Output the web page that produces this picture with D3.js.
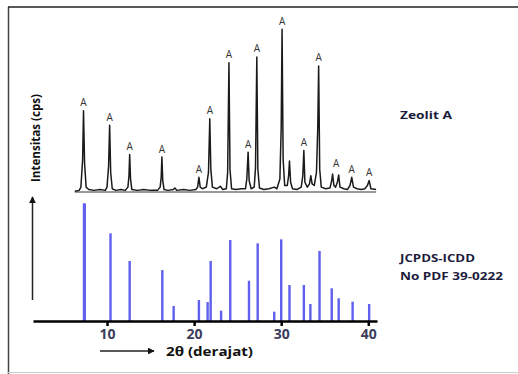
<!DOCTYPE html>
<html>
<head>
<meta charset="utf-8">
<script src="https://cdn.jsdelivr.net/npm/d3@7"></script>
<style>
  body { margin: 0; background: #fff; }
  svg { display: block; font-family: "Open Sans", "DejaVu Sans", sans-serif; }
</style>
</head>
<body>
<svg id="chart" width="518" height="374"></svg>
<script>
// measured trace of the sample (2theta, relative intensity)
const traceTheta = [6.3, 6.8, 7.0, 7.2, 7.3, 7.42, 7.6, 7.9, 8.5, 9.2, 9.8, 10.0, 10.18, 10.3, 10.42, 10.6, 11.0,
  11.6, 12.1, 12.4, 12.52, 12.6, 12.7, 12.85, 13.5, 14.2, 15.0, 15.8, 16.1, 16.22, 16.3, 16.4, 16.55, 17.0,
  17.6, 17.8, 18.0, 18.8, 19.5, 20.2, 20.4, 20.55, 20.7, 20.95, 21.4, 21.65, 21.8, 21.92, 22.1, 22.6, 23.0,
  23.3, 23.7, 23.85, 24.0, 24.12, 24.3, 24.8, 25.4, 25.9, 26.05, 26.2, 26.32, 26.55, 26.9, 27.05, 27.2, 27.32,
  27.5, 28.0, 28.6, 29.2, 29.5, 29.85, 30.0, 30.1, 30.22, 30.4, 30.7, 30.85, 30.95, 31.08, 31.3, 31.8, 32.3,
  32.48, 32.6, 32.72, 33.0, 33.25, 33.4, 33.55, 33.8, 34.05, 34.2, 34.3, 34.42, 34.6, 35.1, 35.6, 35.8, 35.9,
  36.05, 36.25, 36.45, 36.6, 36.75, 37.2, 37.6, 37.9, 38.1, 38.3, 38.7, 39.2, 39.6, 39.9, 40.1, 40.3, 40.9];
const traceInt = [0.5, 1, 3, 20, 50, 18, 3, 1.5, 1, 1.5, 1, 3, 16, 41, 12, 2, 1,
  1.5, 1, 3, 10, 23, 8, 1.5, 1, 1.5, 1, 1, 3, 9, 21.5, 7, 1.5, 1,
  1.5, 2.5, 1, 1.5, 1, 1.5, 3, 9, 3, 2, 3, 12, 45, 14, 3, 2, 3.5,
  1.5, 2, 12, 79.5, 14, 2, 1.5, 2, 2, 8, 24.5, 7, 2, 3, 15, 83, 14,
  2.5, 1.5, 2, 3, 2, 8, 40, 100, 20, 4, 4, 10, 19, 6, 2, 1.5, 3,
  10, 25.5, 6, 3, 5, 10, 5, 4, 12, 40, 77.5, 14, 3, 2, 2.5, 7, 11,
  4, 3, 6, 10.5, 3, 2, 1.5, 4, 9, 3, 2, 1.5, 2, 4, 7, 2, 1.5];

// "A" labelled peaks of zeolite A
const labelTheta = [7.3, 10.3, 12.6, 16.3, 20.55, 21.8, 24.0, 26.2, 27.2, 30.1, 32.6, 34.3, 36.3, 38.1, 40.1];
const labelInt = [50, 41, 23, 21.5, 9, 45, 79.5, 24.5, 83, 100, 25.5, 77.5, 12.5, 9, 7];

// reference pattern JCPDS-ICDD 39-0222
const refTheta = [7.4, 10.4, 12.6, 16.35, 17.65, 20.55, 21.55, 21.9, 23.1, 24.15, 26.3, 27.3, 29.2, 30.0,
  30.95, 32.6, 33.35, 34.4, 35.8, 36.6, 38.2, 40.1];
const refInt = [100, 74.5, 51, 43.3, 12.7, 17.8, 16.1, 51, 8.8, 68.8, 34.2, 66, 7.9, 69.4,
  30.6, 30.6, 14.4, 59.5, 27.8, 19.3, 16.4, 14.4];

const xTicks = [10, 20, 30, 40];

const svg = d3.select('#chart');

// frame
svg.append('line').attr('x1', 8.5).attr('x2', 8.5).attr('y1', 7).attr('y2', 374)
  .attr('stroke', '#444').attr('stroke-width', 1.5);
svg.append('line').attr('x1', 8).attr('x2', 518).attr('y1', 7).attr('y2', 7)
  .attr('stroke', '#222').attr('stroke-width', 1.5);
svg.append('line').attr('x1', 8).attr('x2', 518).attr('y1', 372.5).attr('y2', 372.5)
  .attr('stroke', '#ccc').attr('stroke-width', 1);

const xScale = d3.scaleLinear().domain([1.5, 41.0]).range([33, 377]);
const yTop = d3.scaleLinear().domain([0, 100]).range([192, 29.3]);
const yRef = d3.scaleLinear().domain([0, 100]).range([321, 203.3]);

// sample trace baseline
svg.append('line')
  .attr('x1', xScale(d3.min(traceTheta))).attr('x2', xScale(d3.max(traceTheta)))
  .attr('y1', yTop(0)).attr('y2', yTop(0))
  .attr('stroke', '#333').attr('stroke-width', 1);

const line = d3.line()
  .x((d, i) => xScale(traceTheta[i]))
  .y(d => yTop(d));

svg.append('path')
  .datum(traceInt)
  .attr('d', line)
  .attr('fill', 'none')
  .attr('stroke', '#1a1a1a')
  .attr('stroke-width', 1.5)
  .attr('stroke-linejoin', 'round');

svg.selectAll('.peak-label')
  .data(labelTheta)
  .enter()
  .append('text')
  .attr('class', 'peak-label')
  .attr('x', d => xScale(d))
  .attr('y', (d, i) => yTop(labelInt[i]) - 4.5)
  .attr('text-anchor', 'middle')
  .attr('font-size', '10px')
  .attr('fill', '#333')
  .text('A');

// reference sticks
svg.selectAll('.bar')
  .data(refInt)
  .enter()
  .append('rect')
  .attr('class', 'bar')
  .attr('x', (d, i) => xScale(refTheta[i]) - (i === 0 ? 1.6 : 1.2))
  .attr('y', d => yRef(d))
  .attr('width', (d, i) => i === 0 ? 3.2 : 2.4)
  .attr('height', d => yRef(0) - yRef(d))
  .attr('fill', '#6060ee');

// x axis
const xAxis = d3.axisBottom(xScale)
  .tickValues(xTicks)
  .tickSize(5)
  .tickSizeOuter(0)
  .tickPadding(3);

const gx = svg.append('g')
  .attr('transform', `translate(0,${yRef(0)})`)
  .call(xAxis);
gx.select('.domain').attr('stroke', '#000').attr('stroke-width', 2.5);
gx.selectAll('.tick line').attr('stroke', '#000').attr('stroke-width', 2.5);
gx.selectAll('.tick text')
  .attr('font-size', '14px')
  .attr('font-weight', 'bold')
  .attr('fill', '#3c3c5c')
  .attr('font-family', '"Open Sans", sans-serif');

// arrows
const defs = svg.append('defs');
defs.append('marker')
  .attr('id', 'arrow')
  .attr('viewBox', '0 0 10 10')
  .attr('refX', 9).attr('refY', 5)
  .attr('markerWidth', 4.5).attr('markerHeight', 4.5)
  .attr('orient', 'auto')
  .append('path').attr('d', 'M0,0L10,5L0,10Z').attr('fill', '#111');

svg.append('line').attr('x1', 32.5).attr('x2', 32.5).attr('y1', 300).attr('y2', 197)
  .attr('stroke', '#222').attr('stroke-width', 1.5).attr('marker-end', 'url(#arrow)');
svg.append('line').attr('x1', 100).attr('x2', 154).attr('y1', 351).attr('y2', 351)
  .attr('stroke', '#222').attr('stroke-width', 1.5).attr('marker-end', 'url(#arrow)');

// labels
svg.append('text')
  .attr('transform', 'translate(40,138) rotate(-90)')
  .attr('text-anchor', 'middle')
  .attr('font-size', '13px')
  .attr('font-weight', 'bold')
  .attr('fill', '#111')
  .attr('textLength', 88)
  .attr('lengthAdjust', 'spacingAndGlyphs')
  .text('Intensitas (cps)');

svg.append('text')
  .attr('x', 166).attr('y', 356)
  .attr('font-size', '13px')
  .attr('font-weight', 'bold')
  .attr('fill', '#111')
  .attr('textLength', 87)
  .attr('lengthAdjust', 'spacingAndGlyphs')
  .text('2θ (derajat)');

const sideLabels = [
  { text: 'Zeolit A', y: 118.5, w: 52 },
  { text: 'JCPDS-ICDD', y: 261.5, w: 75 },
  { text: 'No PDF 39-0222', y: 279.5, w: 103 }
];
svg.selectAll('.side-label')
  .data(sideLabels)
  .enter()
  .append('text')
  .attr('class', 'side-label')
  .attr('x', 400)
  .attr('y', d => d.y)
  .attr('font-size', '10px')
  .attr('font-weight', 'bold')
  .attr('fill', '#1c1c3c')
  .attr('textLength', d => d.w)
  .attr('lengthAdjust', 'spacingAndGlyphs')
  .text(d => d.text);
</script>
</body>
</html>
